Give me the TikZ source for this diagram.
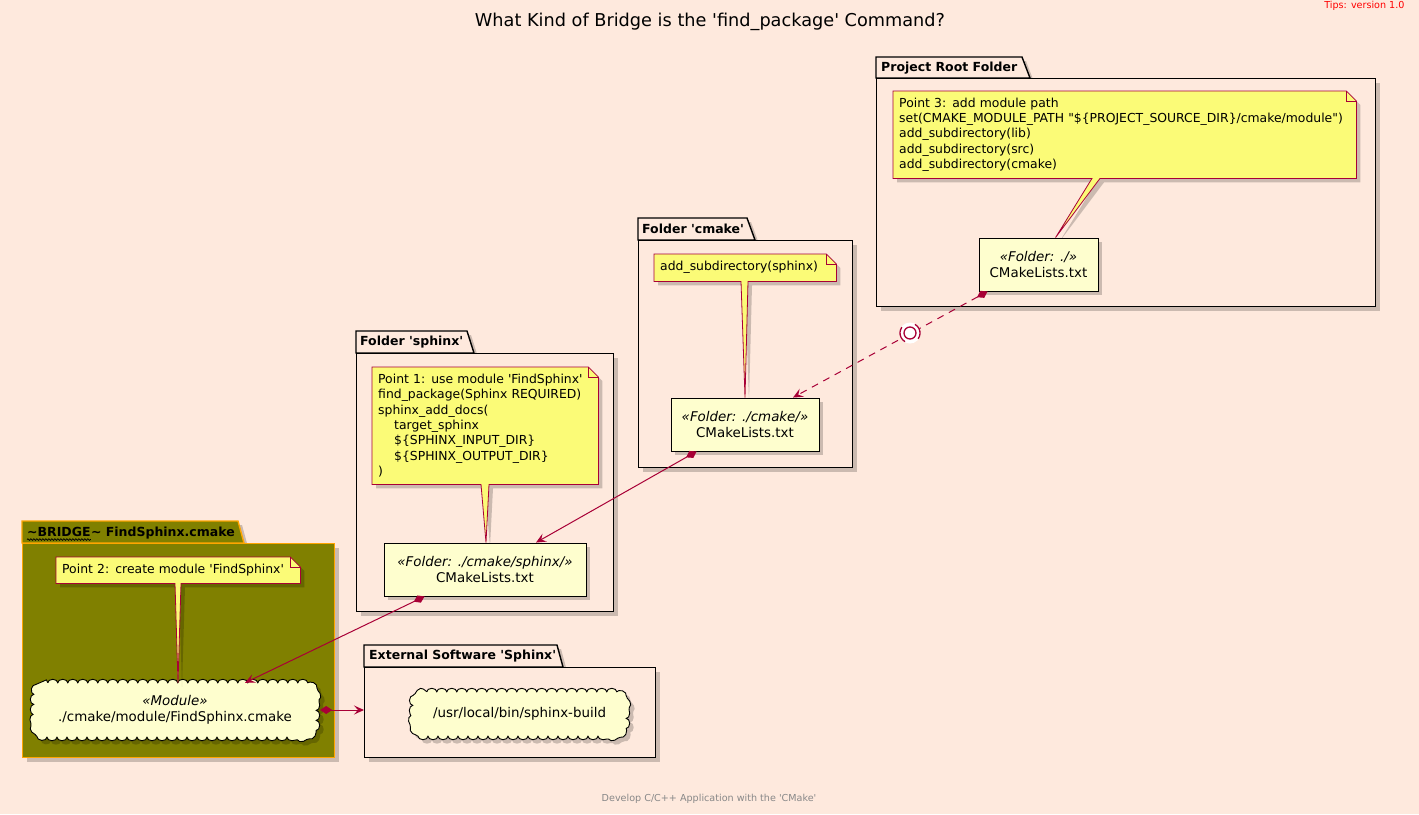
\documentclass[tikz,border=0pt]{standalone}
\usepackage{fontspec}
\setmainfont{DejaVu Sans}
\usetikzlibrary{shadows,decorations.pathmorphing,arrows.meta,calc}
\definecolor{bgc}{RGB}{254,233,221}
\definecolor{crim}{HTML}{A80036}
\definecolor{noteY}{HTML}{FBFB77}
\definecolor{nodeY}{HTML}{FEFECE}
\definecolor{oliv}{HTML}{808000}
\definecolor{orng}{HTML}{FFA500}
\definecolor{footgray}{HTML}{888888}
\pgfdeclarelayer{back}
\pgfdeclarelayer{mid}
\pgfsetlayers{back,mid,main}
\newcommand\nf{\fontsize{12.4pt}{15.3pt}\selectfont}
\newcommand\cf{\fontsize{13.4pt}{16pt}\selectfont}
\newcommand\lf{\fontsize{12.5pt}{15pt}\selectfont}
\newcommand\sq{\textquotesingle}
\newcommand\dq{\textquotedbl}
\tikzset{
  shad/.style={drop shadow={shadow xshift=4pt,shadow yshift=-4pt,opacity=0.2,fill=black}},
  pkgbody/.style={draw=black, line width=1.4pt, fill=bgc, shad, anchor=north west, inner sep=0pt},
  pkgtab/.style={draw=black, line width=1.4pt, fill=bgc, shad, line join=miter},
  pkglabel/.style={font=\lf\bfseries, anchor=west, inner sep=0pt},
  notetext/.style={font=\nf, align=left, anchor=north west, inner xsep=6pt, inner ysep=0pt},
  noteline/.style={draw=crim, line width=0.8pt, fill=noteY, shad},
  filebox/.style={draw=black, line width=0.9pt, fill=nodeY, shad, font=\cf, align=center, inner sep=0pt},
  cloudtext/.style={font=\cf, align=center, inner sep=0pt},
  cloudline/.style={draw=black, line width=0.9pt, fill=nodeY, shad, decorate,
     decoration={bumps, segment length=20pt, amplitude=3.5pt}},
  conn/.style={draw=crim, line width=1pt, {Diamond[length=12pt,width=8pt]}-{Stealth[length=10pt,width=9pt,inset=4pt]}},
}
\begin{document}
\begin{tikzpicture}[x=1pt,y=-1pt]
\useasboundingbox (0,0) rectangle (1419,814);
\begin{pgfonlayer}{back}
\fill[bgc] (0,0) rectangle (1419,814);
% Project Root Folder
\draw[pkgtab] (876,78) -- (876,57) -- (1022,57) -- (1030,78) -- cycle;
\node[pkgbody, minimum width=499pt, minimum height=228pt] (pRoot) at (876,78) {};
\node[pkglabel] (lRoot) at (881,68) {Project Root Folder};
% Folder cmake
\draw[pkgtab] (638,240) -- (638,218) -- (747,218) -- (755,240) -- cycle;
\node[pkgbody, minimum width=214pt, minimum height=227pt] (pCmake) at (638,240) {};
\node[pkglabel] (lCmake) at (642,229) {Folder \sq cmake\sq};
% Folder sphinx
\draw[pkgtab] (356,353) -- (356,331) -- (467,331) -- (474,353) -- cycle;
\node[pkgbody, minimum width=257pt, minimum height=258pt] (pSphinx) at (356,353) {};
\node[pkglabel] (lSphinx) at (360,342) {Folder \sq sphinx\sq};
% Bridge
\draw[pkgtab, draw=orng, fill=oliv] (22,543) -- (22,521) -- (238,521) -- (244,543) -- cycle;
\node[pkgbody, draw=orng, fill=oliv, minimum width=312pt, minimum height=214pt] (pBridge) at (22,543) {};
\node[pkglabel] (lBridgeA) at (27,532) {\textasciitilde BRIDGE};
\node[pkglabel, anchor=base west] (lBridgeB) at (lBridgeA.base east) {\textasciitilde{} FindSphinx.cmake};
\draw[line width=0.7pt, decorate, decoration={snake, segment length=3pt, amplitude=0.8pt}]
   ($(lBridgeA.base west)+(0,3)$) -- ($(lBridgeA.base east)+(0,3)$);
% External
\draw[pkgtab] (364,667) -- (364,645) -- (557,645) -- (563,667) -- cycle;
\node[pkgbody, minimum width=291pt, minimum height=90pt] (pExt) at (364,667) {};
\node[pkglabel] (lExt) at (369,656) {External Software \sq Sphinx\sq};
\end{pgfonlayer}

% titles
\node[font=\fontsize{17.7pt}{20pt}\selectfont] (title) at (710,22) {What Kind of Bridge is the \sq find\_package\sq{} Command?};
\node[font=\fontsize{9.6pt}{12pt}\selectfont, text=red, anchor=east] (tips) at (1408,6) {Tips: version 1.0};
\node[font=\fontsize{9.6pt}{12pt}\selectfont, text=footgray] (foot) at (709,799) {Develop C/C++ Application with the \sq CMake\sq};

% file nodes
\node[filebox, minimum width=119pt, minimum height=53pt] (r) at (1038.5,264.5) {\textit{«Folder: ./»}\\CMakeLists.txt};
\node[filebox, minimum width=148pt, minimum height=53pt] (c) at (745,424.5) {\textit{«Folder: ./cmake/»}\\CMakeLists.txt};
\node[filebox, minimum width=202pt, minimum height=53pt] (s) at (485,569.5) {\textit{«Folder: ./cmake/sphinx/»}\\CMakeLists.txt};
\node[cloudtext, minimum width=282pt, minimum height=54pt] (mod) at (175,710) {\textit{«Module»}\\./cmake/module/FindSphinx.cmake};
\node[cloudtext, minimum width=213pt, minimum height=44pt] (ext) at (519.5,714) {/usr/local/bin/sphinx-build};

% notes text
\node[notetext, text width=451pt, minimum height=87pt] (n3) at (893,91)
  {Point 3: add module path\\
   set(CMAKE\_MODULE\_PATH \dq\$\{PROJECT\_SOURCE\_DIR\}/cmake/module\dq)\\
   add\_subdirectory(lib)\\
   add\_subdirectory(src)\\
   add\_subdirectory(cmake)};
\node[notetext, text width=170pt, minimum height=27pt] (nc) at (654,254) {add\_subdirectory(sphinx)};
\node[notetext, text width=214pt, minimum height=117pt] (n1) at (372,367)
  {Point 1: use module \sq FindSphinx\sq\\
   find\_package(Sphinx REQUIRED)\\
   sphinx\_add\_docs(\\
   \hspace*{16pt}target\_sphinx\\
   \hspace*{16pt}\$\{SPHINX\_INPUT\_DIR\}\\
   \hspace*{16pt}\$\{SPHINX\_OUTPUT\_DIR\}\\
   )};
\node[notetext, text width=232pt, minimum height=26pt] (n2) at (56,557) {Point 2: create module \sq FindSphinx\sq};

\begin{pgfonlayer}{mid}
% cloud outlines
\begin{scope}[y=1pt]
\draw[cloudline] ($(mod.north west)+(14,0)$) -- ($(mod.north east)+(-14,0)$) arc[start angle=90,end angle=0,radius=14]
  -- ($(mod.south east)+(0,14)$) arc[start angle=0,end angle=-90,radius=14]
  -- ($(mod.south west)+(14,0)$) arc[start angle=-90,end angle=-180,radius=14]
  -- ($(mod.north west)+(0,-14)$) arc[start angle=180,end angle=90,radius=14] -- cycle;
\draw[cloudline] ($(ext.north west)+(14,0)$) -- ($(ext.north east)+(-14,0)$) arc[start angle=90,end angle=0,radius=14]
  -- ($(ext.south east)+(0,14)$) arc[start angle=0,end angle=-90,radius=14]
  -- ($(ext.south west)+(14,0)$) arc[start angle=-90,end angle=-180,radius=14]
  -- ($(ext.north west)+(0,-14)$) arc[start angle=180,end angle=90,radius=14] -- cycle;
\end{scope}
% note outlines with pointers
\draw[noteline] (n3.north west) -- ($(n3.north east)+(-10,0)$) -- ($(n3.north east)+(0,10)$) -- (n3.south east)
   -- ($(n3.south west)+(207,0)$) -- ($(r.north west)+(77,0)$) -- ($(n3.south west)+(199,0)$) -- (n3.south west) -- cycle;
\draw[crim, line width=0.8pt] ($(n3.north east)+(-10,0)$) -- ($(n3.north east)+(-10,10)$) -- ($(n3.north east)+(0,10)$);

\draw[noteline] (nc.north west) -- ($(nc.north east)+(-10,0)$) -- ($(nc.north east)+(0,10)$) -- (nc.south east)
   -- ($(nc.south west)+(94,0)$) -- (c.north) -- ($(nc.south west)+(87,0)$) -- (nc.south west) -- cycle;
\draw[crim, line width=0.8pt] ($(nc.north east)+(-10,0)$) -- ($(nc.north east)+(-10,10)$) -- ($(nc.north east)+(0,10)$);

\draw[noteline] (n1.north west) -- ($(n1.north east)+(-10,0)$) -- ($(n1.north east)+(0,10)$) -- (n1.south east)
   -- ($(n1.south west)+(117,0)$) -- ($(s.north)+(1,0)$) -- ($(n1.south west)+(109,0)$) -- (n1.south west) -- cycle;
\draw[crim, line width=0.8pt] ($(n1.north east)+(-10,0)$) -- ($(n1.north east)+(-10,10)$) -- ($(n1.north east)+(0,10)$);

\draw[noteline] (n2.north west) -- ($(n2.north east)+(-10,0)$) -- ($(n2.north east)+(0,10)$) -- (n2.south east)
   -- ($(n2.south west)+(125,0)$) -- ($(mod.north)+(3,0)$) -- ($(n2.south west)+(119,0)$) -- (n2.south west) -- cycle;
\draw[crim, line width=0.8pt] ($(n2.north east)+(-10,0)$) -- ($(n2.north east)+(-10,10)$) -- ($(n2.north east)+(0,10)$);
\end{pgfonlayer}

% connectors
\draw[conn, dash pattern=on 7pt off 6pt] ($(r.south west)+(9,0)$) -- ($(c.north)+(48,0)$);
\draw[conn] ($(c.south west)+(26,0)$) -- ($(s.north)+(51,0)$);
\draw[conn] ($(s.south west)+(41,0)$) -- ($(mod.north)+(70,0)$);
\draw[conn] ($(mod.east)+(4,0)$) -- (pExt.west |- mod.east);

% interface symbol on dashed connector
\coordinate (ic) at (910,333);
\begin{scope}[shift={(ic)}, y=1pt]
\fill[white] (0,0) circle[radius=10.5];
\draw[crim, line width=1.3pt] (0,0) circle[radius=6];
\draw[crim, line width=1.3pt] (-35:10) arc[start angle=-35, end angle=60, radius=10];
\draw[crim, line width=1.3pt] (145:10) arc[start angle=145, end angle=240, radius=10];
\end{scope}
\end{tikzpicture}
\end{document}
